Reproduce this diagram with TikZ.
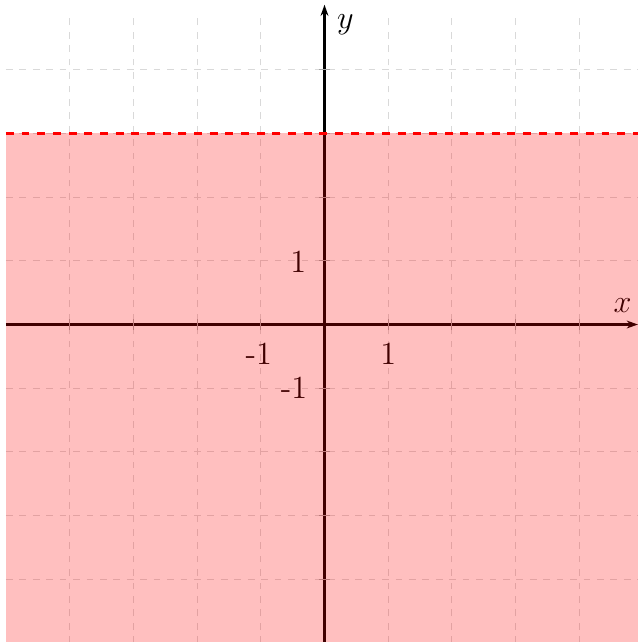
\documentclass[tikz,border=0pt]{standalone}
\usepackage{amsmath}
\usepackage{xcolor}
\usepackage{tikz}
\usetikzlibrary{arrows.meta,positioning,calc}

\begin{document}
\begin{tikzpicture}[
    x=1cm, y=1cm,
    gridline/.style={draw=gray!30, dashed, line width=0.5pt},
    axis/.style={-{Stealth[length=5pt, width=3.5pt]}, line width=1pt, draw=black},
    tick/.style={draw=gray!70, line width=0.4pt},
    region/.style={fill=red, fill opacity=0.25, draw=none},
    bound/.style={draw=red, very thick, dash pattern=on 3.5pt off 3.5pt},
    lbl/.style={font=\Large, inner sep=2pt}
]
    \useasboundingbox (-5.094,-4.984) rectangle (4.92,5.094);

    % grid
    \foreach \k in {-4,...,4} {
        \draw [gridline] (\k,-5) -- (\k,4.9);
        \draw [gridline] (-5,\k) -- (4.92,\k);
    }

    % axes
    \coordinate (xl) at (-5,0);
    \coordinate (xr) at (4.92,0);
    \coordinate (yb) at (0,-5);
    \coordinate (yt) at (0,5.02);
    \draw [axis] (xl) -- (xr);
    \draw [axis] (yb) -- (yt);
    \node [lbl] (xname) at (4.68,0.3) {$x$};
    \node [lbl] (yname) at (0.33,4.7) {$y$};

    % ticks
    \foreach \k in {-4,...,-1,1,2,...,4} {
        \draw [tick] (\k,-0.09) -- (\k,0.09);
        \draw [tick] (-0.09,\k) -- (0.09,\k);
    }
    \node [lbl] (tx1) at (1,-0.46) {1};
    \node [lbl] (txm1) at (-1.03,-0.46) {-1};
    \node [lbl] (ty1) at (-0.41,0.98) {1};
    \node [lbl] (tym1) at (-0.48,-1.0) {-1};

    % region y < 3
    \fill [region] (-5,-5) rectangle (4.92,3);
    \draw [bound] (-5,3) -- (4.92,3);
\end{tikzpicture}
\end{document}
